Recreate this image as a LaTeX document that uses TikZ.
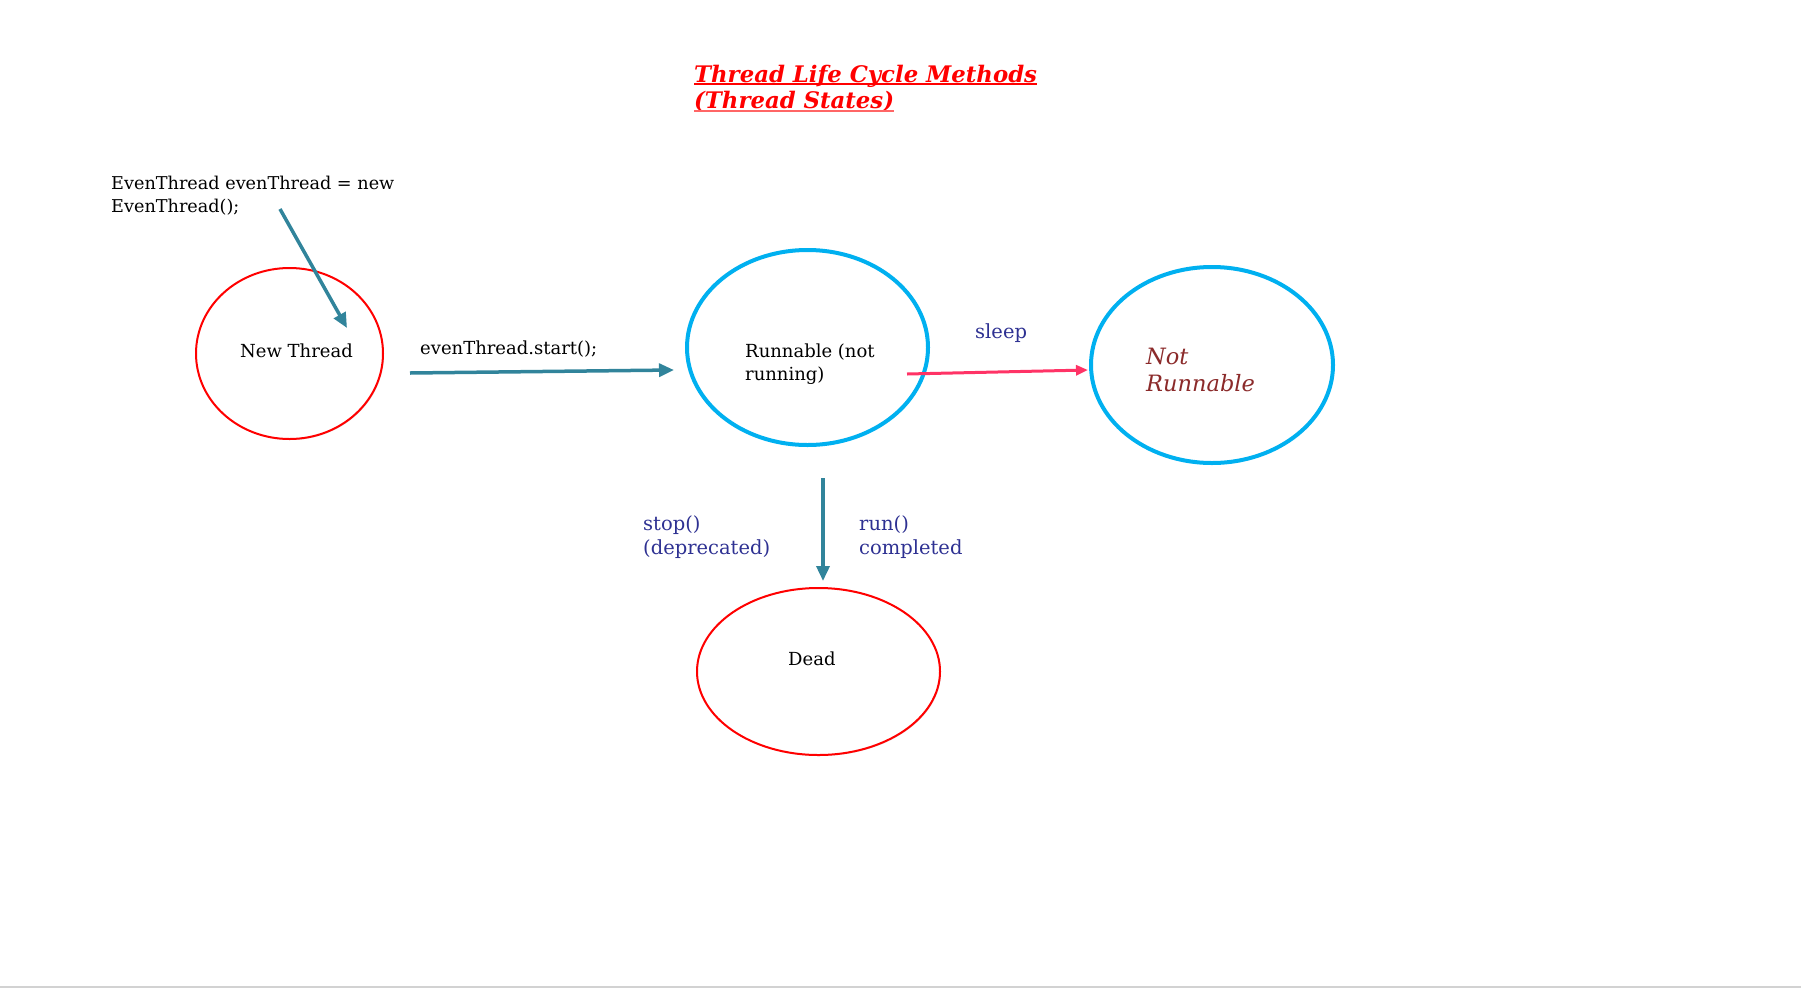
\documentclass[tikz,border=0pt]{standalone}
\usepackage{fontspec}
\setmainfont{DejaVu Serif}
\usetikzlibrary{shapes.geometric,arrows.meta,shadows}

\definecolor{arrowteal}{HTML}{31849B}
\definecolor{stateblue}{HTML}{00B0F0}
\definecolor{statered}{HTML}{FF0000}
\definecolor{labelblue}{HTML}{2E3192}
\definecolor{notred}{HTML}{8B2A2A}
\definecolor{sleeppink}{HTML}{FF3366}

\tikzset{
  state/.style={ellipse, fill=white, inner sep=0pt,
    drop shadow={shadow xshift=1pt, shadow yshift=-1pt, opacity=0.25}},
  redstate/.style={state, draw=statered, line width=2},
  bluestate/.style={state, draw=stateblue, line width=4},
  txt/.style={anchor=north west, inner sep=0pt, align=left,
    font=\fontsize{18}{23}\selectfont},
  bluetxt/.style={txt, text=labelblue, font=\fontsize{19.5}{24}\selectfont},
  tealarrow/.style={draw=arrowteal, line width=3.5,
    -{Triangle[length=15pt, width=13pt]}},
}

\begin{document}
\begin{tikzpicture}[x=1pt, y=-1pt]
  \useasboundingbox (0,0) rectangle (1801,988);

  % title
  \node[anchor=base west, inner sep=0pt, text=statered,
    font=\fontsize{22.8}{28}\bfseries\itshape] (ttl1) at (694,82)
    {Thread Life Cycle Methods};
  \node[anchor=base west, inner sep=0pt, text=statered,
    font=\fontsize{22.8}{28}\bfseries\itshape] (ttl2) at (694,108)
    {(Thread States)};
  \draw[statered, line width=1.5] ([yshift=-2pt]ttl1.base west) -- ([yshift=-2pt]ttl1.base east);
  \draw[statered!60, line width=1.5] ([yshift=-3pt]ttl2.base west) -- ([yshift=-3pt]ttl2.base east);

  % states
  \node[redstate, minimum width=187, minimum height=171] (new) at (289.5,353.5) {};
  \node[bluestate, minimum width=241, minimum height=195] (run) at (807.5,347.5) {};
  \node[bluestate, minimum width=242, minimum height=196] (notrun) at (1212,365) {};
  \node[redstate, minimum width=243, minimum height=167] (dead) at (818.5,671.5) {};

  \node[txt] (newtxt) at (240,344) {New Thread};
  \node[txt] (runtxt) at (745,344) {Runnable (not\\running)};
  \node[txt, text=notred, font=\fontsize{22.5}{27}\itshape] (nottxt) at (1146,348) {Not\\Runnable};
  \node[txt] (deadtxt) at (788,652) {Dead};

  % texts
  \node[txt, font=\fontsize{17.65}{23}\selectfont] (code) at (111,176) {EvenThread evenThread = new\\EvenThread();};
  \node[txt] (start) at (420,341) {evenThread.start();};
  \node[bluetxt] (sleep) at (975,323) {sleep};
  \node[bluetxt] (stop) at (643,515) {stop()\\(deprecated)};
  \node[bluetxt] (done) at (859,515) {run()\\completed};

  % arrows
  \coordinate (a1) at (280,209);
  \coordinate (a2) at (347,328);
  \coordinate (b1) at (410,373);
  \coordinate (b2) at (674,370);
  \coordinate (c1) at (907,374);
  \coordinate (c2) at (1088,370);
  \coordinate (d1) at (823,478);
  \coordinate (d2) at (823,581);

  \draw[tealarrow] (a1) -- (a2);
  \draw[tealarrow] (b1) -- (b2);
  \draw[draw=sleeppink, line width=3, -{Triangle[length=12pt, width=10pt]}] (c1) -- (c2);
  \draw[tealarrow] (d1) -- (d2);

  \draw[gray!35, line width=2] (0,987) -- (1801,987);
\end{tikzpicture}
\end{document}
